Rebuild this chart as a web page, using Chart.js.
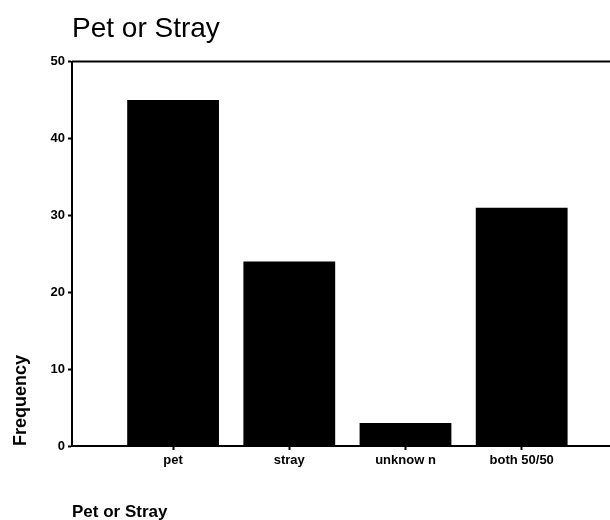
<!DOCTYPE html>
<html>
<head>
<meta charset="utf-8">
<script src="https://cdn.jsdelivr.net/npm/chart.js@4"></script>
<style>
  html, body { margin: 0; padding: 0; background: #fff; }
  #wrap { width: 610px; height: 520px; }
</style>
</head>
<body>
<div id="wrap"><canvas id="chart" width="610" height="520"></canvas></div>
<script>
const categories = ['pet', 'stray', 'unknow n', 'both 50/50'];
const counts = [45, 24, 3, 31];
const yTicks = [0, 10, 20, 30, 40, 50];

const FONT = '"Liberation Sans", Arial, sans-serif';

// top frame line, like the old SPSS output
const topLine = {
  id: 'topLine',
  afterDraw(chart) {
    const { ctx, chartArea } = chart;
    ctx.save();
    ctx.strokeStyle = '#000';
    ctx.lineWidth = 2;
    ctx.beginPath();
    ctx.moveTo(chartArea.left, chartArea.top);
    ctx.lineTo(chartArea.right, chartArea.top);
    ctx.stroke();
    ctx.restore();
  }
};

new Chart(document.getElementById('chart'), {
  type: 'bar',
  data: {
    datasets: [{
      label: 'Frequency',
      data: categories.map((c, i) => ({ x: i + 1, y: counts[i] })),
      backgroundColor: '#000',
      borderWidth: 0,
      barPercentage: 0.79,
      categoryPercentage: 1,
    }]
  },
  plugins: [topLine],
  options: {
    responsive: false,
    animation: false,
    layout: { padding: { top: 2, left: 6, right: 0, bottom: 0 } },
    plugins: {
      legend: { display: false },
      tooltip: { enabled: false },
      title: {
        display: true,
        text: 'Pet or Stray',
        align: 'start',
        fullSize: false,
        color: '#000',
        font: { family: FONT, size: 28, weight: 'normal' },
        padding: { top: 10, bottom: 16 },
      }
    },
    scales: {
      x: {
        type: 'linear',
        offset: false,
        min: 0.13,
        max: 4.76,
        afterBuildTicks: s => { s.ticks = categories.map((c, i) => ({ value: i + 1 })); },
        afterFit: s => { s.height = 74; },
        grid: { display: true, offset: false, drawOnChartArea: false, color: '#000', tickLength: 4, tickWidth: 2 },
        border: { color: '#000', width: 2 },
        ticks: {
          color: '#000',
          maxRotation: 0,
          padding: 3,
          font: { family: FONT, size: 13, weight: 'bold' },
          callback: v => categories[Math.round(v) - 1]
        },
        title: {
          display: true,
          text: 'Pet or Stray',
          align: 'start',
          color: '#000',
          font: { family: FONT, size: 17, weight: 'bold' },
          padding: { top: 30, bottom: -3 }
        }
      },
      y: {
        min: 0,
        max: 50,
        afterBuildTicks: s => { s.ticks = yTicks.map(v => ({ value: v })); },
        afterFit: s => { s.width = 66; },
        grid: { display: true, drawOnChartArea: false, color: '#000', tickLength: 4, tickWidth: 2 },
        border: { color: '#000', width: 2 },
        ticks: {
          color: '#000',
          padding: 3,
          font: { family: FONT, size: 13, weight: 'bold' }
        },
        title: {
          display: true,
          text: 'Frequency',
          align: 'start',
          color: '#000',
          font: { family: FONT, size: 18, weight: 'bold' },
          padding: { bottom: 10 }
        }
      }
    }
  }
});
</script>
</body>
</html>
